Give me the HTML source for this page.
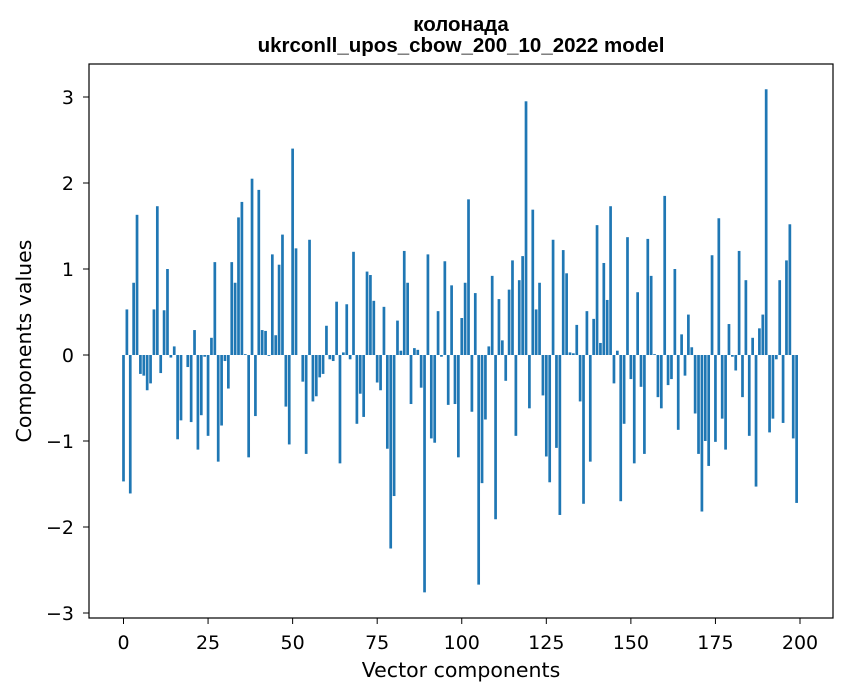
<!DOCTYPE html>
<html><head><meta charset="utf-8"><style>
body{margin:0;background:#fff;}
svg{display:block;font-family:"DejaVu Sans","Liberation Sans",sans-serif;}
</style></head><body>
<svg id="chart" width="847" height="696" viewBox="0 0 847 696" xmlns="http://www.w3.org/2000/svg">
<rect width="847" height="696" fill="#fff"/>
<text x="461" y="31" text-anchor="middle" font-size="20.5" font-weight="bold" font-family="Liberation Sans, sans-serif">колонада</text>
<text x="461" y="52" text-anchor="middle" font-size="20.5" font-weight="bold" font-family="Liberation Sans, sans-serif">ukrconll_upos_cbow_200_10_2022 model</text>
<g id="bars"></g>
<rect x="89" y="64" width="744" height="554" fill="none" stroke="#000" stroke-width="1.2"/>
<g id="xticks"></g>
<g id="yticks"></g>
<text x="461" y="677" text-anchor="middle" font-size="20.5">Vector components</text>
<text transform="translate(31,341) rotate(-90)" text-anchor="middle" font-size="20.5">Components values</text>
</svg>
<script>
const values = [
-1.47,0.53,-1.61,0.84,1.63,-0.22,-0.24,-0.41,-0.33,0.53,
1.73,-0.21,0.52,1.0,-0.03,0.10,-0.98,-0.76,0.0,-0.14,
-0.78,0.29,-1.10,-0.70,-0.02,-0.94,0.20,1.08,-1.24,-0.82,
-0.07,-0.39,1.08,0.84,1.60,1.78,0.01,-1.19,2.05,-0.71,
1.92,0.29,0.28,-0.01,1.17,0.23,1.05,1.40,-0.60,-1.04,
2.40,1.24,0.0,-0.31,-1.15,1.34,-0.54,-0.48,-0.26,-0.22,
0.34,-0.05,-0.07,0.62,-1.26,0.03,0.59,-0.05,1.20,-0.80,
-0.45,-0.72,0.97,0.93,0.63,-0.32,-0.41,0.56,-1.09,-2.25,
-1.64,0.40,0.05,1.21,0.84,-0.57,0.08,0.06,-0.38,-2.76,
1.17,-0.97,-1.02,0.51,-0.02,1.09,-0.58,0.81,-0.57,-1.19,
0.43,0.84,1.81,-0.66,0.72,-2.67,-1.49,-0.75,0.10,0.92,
-1.91,0.65,0.17,-0.30,0.76,1.10,-0.94,0.87,1.15,2.95,
-0.62,1.69,0.53,0.84,-0.47,-1.18,-1.48,1.34,-1.08,-1.86,
1.22,0.95,0.03,0.02,0.35,-0.54,-1.73,0.51,-1.24,0.42,
1.51,0.14,1.07,0.64,1.73,-0.33,0.05,-1.70,-0.80,1.37,
-0.28,-1.26,0.73,-0.37,-1.15,1.35,0.92,0.01,-0.49,-0.62,
1.85,-0.35,-0.28,1.0,-0.87,0.24,-0.24,0.47,0.09,-0.68,
-1.15,-1.82,-1.00,-1.29,1.16,-1.01,1.59,-0.74,-1.10,0.36,
-0.02,-0.18,1.21,-0.49,0.87,-0.94,0.20,-1.53,0.31,0.47,
3.09,-0.90,-0.74,-0.05,0.87,-0.79,1.10,1.52,-0.97,-1.72
];
const xTickLabels = [0,25,50,75,100,125,150,175,200];
const yTickLabels = [-3,-2,-1,0,1,2,3];
const NS = "http://www.w3.org/2000/svg";
function xScale(i){ return 123.5 + 3.3825*i; }
function yScale(v){ return 355 - 86*v; }
const bars = document.getElementById('bars');
values.forEach((v,i)=>{
  const r = document.createElementNS(NS,'rect');
  
  
  const w = 3.3825*0.8;
  r.setAttribute('x', xScale(i)-w/2);
  r.setAttribute('width', w);
  const y0 = yScale(0), y1 = yScale(v);
  r.setAttribute('y', Math.min(y0,y1));
  r.setAttribute('height', Math.abs(y1-y0));
  r.setAttribute('fill','#1f77b4');
  bars.appendChild(r);
});
const xt = document.getElementById('xticks');
xTickLabels.forEach(t=>{
  const x = xScale(t);
  const l = document.createElementNS(NS,'line');
  
  
  l.setAttribute('x1',x); l.setAttribute('x2',x);
  l.setAttribute('y1',618); l.setAttribute('y2',624);
  l.setAttribute('stroke','#000');
  xt.appendChild(l);
  const s = document.createElementNS(NS,'text');
  
  
  s.setAttribute('x',x); s.setAttribute('y',649);
  s.setAttribute('text-anchor','middle'); s.setAttribute('font-size','19');
  s.textContent = t;
  xt.appendChild(s);
});
const yt = document.getElementById('yticks');
yTickLabels.forEach(t=>{
  const y = yScale(t);
  const l = document.createElementNS(NS,'line');
  
  
  l.setAttribute('x1',83); l.setAttribute('x2',89);
  l.setAttribute('y1',y); l.setAttribute('y2',y);
  l.setAttribute('stroke','#000');
  yt.appendChild(l);
  const s = document.createElementNS(NS,'text');
  
  
  s.setAttribute('x',74); s.setAttribute('y',y+7);
  s.setAttribute('text-anchor','end'); s.setAttribute('font-size','19');
  s.textContent = t<0 ? '\u2212'+Math.abs(t) : t;
  yt.appendChild(s);
});
</script>
</body></html>
